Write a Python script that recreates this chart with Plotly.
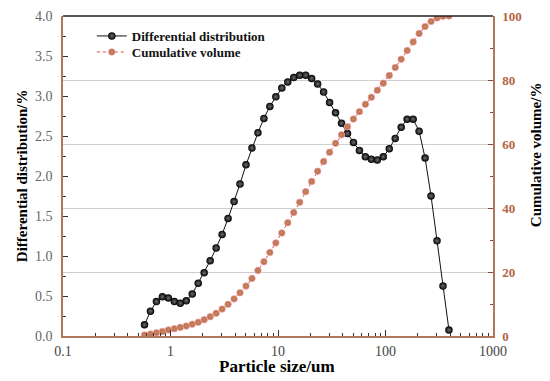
import plotly.graph_objects as go

# Particle size bins (um)
size_um = [0.573, 0.651, 0.740, 0.841, 0.955, 1.086, 1.234, 1.402, 1.593, 1.811,
           2.057, 2.339, 2.658, 3.020, 3.432, 3.901, 4.433, 5.038, 5.726, 6.506,
           7.395, 8.404, 9.550, 10.852, 12.332, 14.014, 15.925, 18.097, 20.565, 23.370,
           26.558, 30.181, 34.297, 38.974, 44.289, 50.329, 57.194, 64.995, 73.859, 83.931,
           95.378, 108.393, 123.175, 139.973, 159.061, 180.755, 205.410, 233.424, 265.259, 301.416,
           342.536, 389.261]

# Differential distribution (%)
differential = [0.14, 0.31, 0.43, 0.49, 0.475, 0.43, 0.41, 0.44, 0.525, 0.66,
                0.79, 0.94, 1.10, 1.27, 1.47, 1.68, 1.90, 2.14, 2.35, 2.54,
                2.72, 2.87, 2.99, 3.10, 3.175, 3.23, 3.26, 3.26, 3.22, 3.15,
                3.05, 2.92, 2.79, 2.66, 2.53, 2.42, 2.32, 2.24, 2.21, 2.20,
                2.24, 2.34, 2.47, 2.61, 2.71, 2.71, 2.56, 2.225, 1.75, 1.19,
                0.625, 0.075]

# Cumulative volume (%)
cumulative = [0.3, 0.6, 1.0, 1.4, 1.9, 2.3, 2.7, 3.1, 3.7, 4.3,
              5.1, 6.0, 7.1, 8.4, 9.9, 11.6, 13.5, 15.6, 18.0, 20.5,
              23.2, 26.1, 29.1, 32.2, 35.4, 38.6, 41.8, 45.1, 48.3, 51.5,
              54.5, 57.4, 60.2, 62.9, 65.4, 67.8, 70.1, 72.4, 74.6, 76.8,
              79.0, 81.4, 83.9, 86.5, 89.2, 91.9, 94.5, 96.7, 98.3, 99.4,
              99.9, 100.0]

x_tickvals = [0.1, 1, 10, 100, 1000]
x_ticktext = ["0.1", "1", "10", "100", "1000"]

SERIF = "Liberation Serif, Times New Roman, serif"
BROWN = "#b0785a"
RIGHT_LABEL = "#b5653f"

fig = go.Figure()

fig.add_trace(go.Scatter(
    x=size_um, y=differential, name="Differential distribution",
    mode="lines+markers",
    line=dict(color="#111111", width=1),
    marker=dict(size=7.5, color="#000000", line=dict(width=0),
                gradient=dict(type="radial", color="#707070")),
    yaxis="y", legend="legend",
))

fig.add_trace(go.Scatter(
    x=size_um, y=cumulative, name="Cumulative volume",
    mode="lines+markers",
    line=dict(color="#e04848", width=1, dash="dot"),
    marker=dict(size=6.5, color="#b4643f", line=dict(width=0.8, color="#f4a0a8"),
                gradient=dict(type="radial", color="#c89068")),
    yaxis="y2", legend="legend2",
))

minor_x = [0.2, 0.3, 0.4, 0.5, 0.6, 0.7, 0.8, 0.9,
           2, 3, 4, 5, 6, 7, 8, 9,
           20, 30, 40, 50, 60, 70, 80, 90,
           200, 300, 400, 500, 600, 700, 800, 900]

legend_common = dict(xanchor="left", yanchor="middle", bgcolor="rgba(0,0,0,0)", itemwidth=30,
                     font=dict(family=SERIF, size=13, color="#111111", weight="bold"))

fig.update_layout(
    width=542, height=373,
    margin=dict(l=55, r=57, t=8, b=45, autoexpand=False),
    paper_bgcolor="white", plot_bgcolor="white",
    font=dict(family=SERIF, size=14, color="#444444"),
    showlegend=True,
    legend=dict(x=0.067, y=0.9375, **legend_common),
    legend2=dict(x=0.067, y=0.8875, **legend_common),
    xaxis=dict(type="log", range=[-1, 3], automargin=False,
               tickvals=x_tickvals, ticktext=x_ticktext,
               ticks="inside", ticklen=6, tickcolor="#333333",
               minor=dict(tickvals=minor_x, ticks="inside", ticklen=3.5, tickcolor="#333333", showgrid=False),
               showline=True, linecolor=BROWN, linewidth=1.5,
               showgrid=False, zeroline=False,
               tickfont=dict(family=SERIF, size=14, color="#444444"),
               ticklabelstandoff=1),
    yaxis=dict(range=[0, 4], dtick=0.5, tickformat=".1f", automargin=False,
               ticks="inside", ticklen=5, tickcolor="#333333",
               minor=dict(dtick=0.25, ticks="inside", ticklen=3, tickcolor="#333333", showgrid=False),
               showline=True, linecolor=BROWN, linewidth=1.5,
               showgrid=False, zeroline=False,
               tickfont=dict(family=SERIF, size=14, color="#666666"),
               ticklabelstandoff=6),
    yaxis2=dict(range=[0, 100], dtick=20, overlaying="y", side="right", automargin=False,
                ticks="inside", ticklen=5, tickcolor="#8a4a30",
                minor=dict(dtick=10, ticks="inside", ticklen=3, tickcolor="#8a4a30", showgrid=False),
                showline=True, linecolor=BROWN, linewidth=1.5,
                showgrid=True, gridcolor="#cfcfcf", gridwidth=1, zeroline=False,
                tickfont=dict(family=SERIF, size=13, color=RIGHT_LABEL, weight="bold"),
                ticklabelstandoff=5),
    shapes=[dict(type="line", xref="paper", yref="paper", x0=0, x1=1, y0=1, y1=1,
                 line=dict(color="#222222", width=1.5))],
    annotations=[
        dict(text="<b>Differential distribution/%</b>", xref="paper", yref="paper",
             x=-0.095, y=0.5, xanchor="center", yanchor="middle", textangle=-90,
             showarrow=False, font=dict(family=SERIF, size=15, color="#000000")),
        dict(text="<b>Cumulative volume/%</b>", xref="paper", yref="paper",
             x=1.1, y=0.565, xanchor="center", yanchor="middle", textangle=-90,
             showarrow=False, font=dict(family=SERIF, size=15, color="#000000")),
        dict(text="<b>Particle size/um</b>", xref="paper", yref="paper",
             x=0.498, y=-0.095, xanchor="center", yanchor="middle",
             showarrow=False, font=dict(family=SERIF, size=17, color="#000000")),
    ],
)

fig.write_html("out.html")
